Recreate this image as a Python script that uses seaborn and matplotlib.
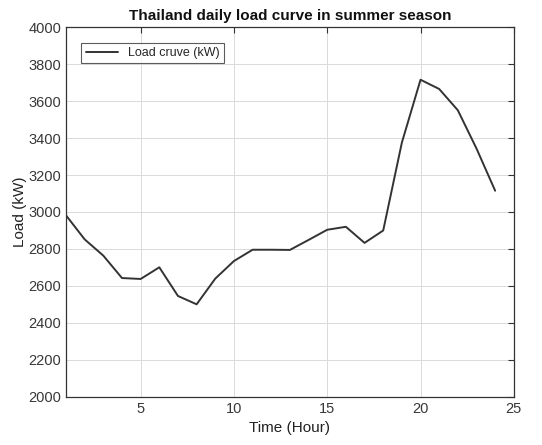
import matplotlib
matplotlib.use("Agg")
import matplotlib.pyplot as plt
import seaborn as sns
import pandas as pd

hours = list(range(1, 25))
load_kw = [2982, 2852, 2764, 2643, 2638, 2701, 2546, 2501, 2640, 2735,
           2796, 2796, 2795, 2849, 2904, 2920, 2833, 2900, 3375, 3715,
           3665, 3550, 3343, 3115]
x_ticks = [5, 10, 15, 20, 25]
y_ticks = list(range(2000, 4001, 200))

sns.set_style("white")
plt.rcParams["font.family"] = ["Liberation Sans", "DejaVu Sans"]

df = pd.DataFrame({"Time (Hour)": hours, "Load (kW)": load_kw})

fig = plt.figure(figsize=(5.42, 4.45), dpi=100)
ax = fig.add_axes([0.1218, 0.1079, 0.8262, 0.8314])

sns.lineplot(data=df, x="Time (Hour)", y="Load (kW)", ax=ax,
             color="#333333", linewidth=1.4, label="Load cruve (kW)")

ax.set_xlim(1, 25)
ax.set_ylim(2000, 4000)
ax.set_xticks(x_ticks)
ax.set_yticks(y_ticks)
ax.grid(True, color="#dadada", linewidth=0.7)
ax.tick_params(direction="in", top=True, right=True, length=4,
               width=0.8, colors="#333333", labelsize=10.5, labelcolor="#383838")
for s in ax.spines.values():
    s.set_color("#333333")
    s.set_linewidth(0.9)

ax.set_xlabel("Time (Hour)", fontsize=11, color="#222222", labelpad=4)
ax.set_ylabel("Load (kW)", fontsize=11, color="#222222", labelpad=1)
ax.set_title("Thailand daily load curve in summer season", fontsize=11,
             fontweight="bold", color="#111111", pad=5)

leg = ax.legend(loc="upper left", fontsize=9, frameon=True, fancybox=False,
                edgecolor="#333333", borderpad=0.35, handlelength=2.6,
                bbox_to_anchor=(0.02, 0.975))
leg.get_frame().set_linewidth(0.8)

fig.savefig("out.png", dpi=100)
